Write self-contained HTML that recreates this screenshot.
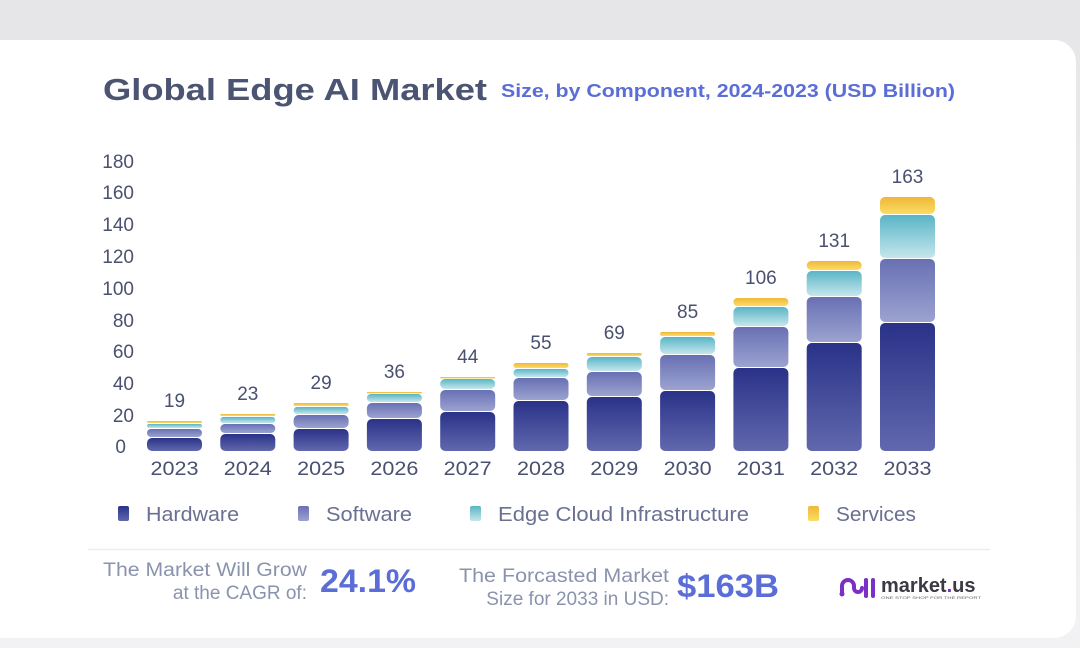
<!DOCTYPE html>
<html><head><meta charset="utf-8"><style>
html,body{margin:0;padding:0;background:#efeff1;}
svg{display:block;font-family:"Liberation Sans",sans-serif;}
</style></head><body>
<svg width="1080" height="648" viewBox="0 0 1080 648" xmlns="http://www.w3.org/2000/svg">
<defs>
<linearGradient id="hw" x1="0" y1="0" x2="0" y2="1"><stop offset="0" stop-color="#2a3289"/><stop offset="1" stop-color="#6168ad"/></linearGradient>
<linearGradient id="sw" x1="0" y1="0" x2="0" y2="1"><stop offset="0" stop-color="#6870b4"/><stop offset="1" stop-color="#9ca3d0"/></linearGradient>
<linearGradient id="cl" x1="0" y1="0" x2="0" y2="1"><stop offset="0" stop-color="#5ab5c6"/><stop offset="1" stop-color="#c5e6ec"/></linearGradient>
<linearGradient id="sv" x1="0" y1="0" x2="0" y2="1"><stop offset="0" stop-color="#f0b63c"/><stop offset="1" stop-color="#f9de62"/></linearGradient>
<linearGradient id="bg" x1="0" y1="0" x2="0" y2="1"><stop offset="0" stop-color="#e6e6e8"/><stop offset="1" stop-color="#f2f2f4"/></linearGradient>
</defs>
<rect width="1080" height="648" fill="url(#bg)"/>
<rect x="-20" y="40" width="1096" height="598" rx="22" fill="#ffffff"/>
<text x="103" y="100" font-size="31" font-weight="bold" fill="#4b5472" textLength="384" lengthAdjust="spacingAndGlyphs">Global Edge AI Market</text>
<text x="501" y="97" font-size="18" font-weight="bold" fill="#5b6dd6" textLength="454" lengthAdjust="spacingAndGlyphs">Size, by Component, 2024-2023 (USD Billion)</text>
<g font-size="19" fill="#4a5070" text-anchor="end">
<text x="134" y="168">180</text><text x="134" y="199">160</text><text x="134" y="231">140</text><text x="134" y="263">120</text><text x="134" y="295">100</text><text x="134" y="327">80</text><text x="134" y="358">60</text><text x="134" y="390">40</text><text x="134" y="422">20</text><text x="126" y="453">0</text>
</g>
<g id="bars"></g>
<g font-size="19" fill="#4a5070" text-anchor="middle" id="labels"></g>
<rect x="118" y="506" width="11" height="15" rx="2" fill="url(#hw)"/>
<rect x="298" y="506" width="11" height="15" rx="2" fill="url(#sw)"/>
<rect x="470" y="506" width="11" height="15" rx="2" fill="url(#cl)"/>
<rect x="808" y="506" width="11" height="15" rx="2" fill="url(#sv)"/>
<g font-size="20" fill="#6a7092">
<text x="146" y="521" textLength="93" lengthAdjust="spacingAndGlyphs">Hardware</text>
<text x="326" y="521" textLength="86" lengthAdjust="spacingAndGlyphs">Software</text>
<text x="498" y="521" textLength="251" lengthAdjust="spacingAndGlyphs">Edge Cloud Infrastructure</text>
<text x="836" y="521" textLength="80" lengthAdjust="spacingAndGlyphs">Services</text>
</g>
<line x1="88" y1="549.5" x2="990" y2="549.5" stroke="#ececee" stroke-width="1.5"/>
<g font-size="19" fill="#8a93ad" text-anchor="end">
<text x="307" y="576" textLength="204" lengthAdjust="spacingAndGlyphs">The Market Will Grow</text>
<text x="307" y="599">at the CAGR of:</text>
<text x="669" y="582" textLength="210" lengthAdjust="spacingAndGlyphs">The Forcasted Market</text>
<text x="669" y="605">Size for 2033 in USD:</text>
</g>
<text x="320" y="592" font-size="32" font-weight="bold" fill="#5b6dd6" textLength="96" lengthAdjust="spacingAndGlyphs">24.1%</text>
<text x="677" y="597" font-size="32" font-weight="bold" fill="#5b6dd6" textLength="102" lengthAdjust="spacingAndGlyphs">$163B</text>
<g stroke="#7b2fc4" stroke-width="4" fill="none" stroke-linecap="round">
<path d="M842 594 v-8 a6 6 0 0 1 12 0 v2 a4 4 0 0 0 8 0"/>
<line x1="866" y1="580" x2="866" y2="596"/>
<line x1="873" y1="580" x2="873" y2="596"/>
</g>
<circle cx="842" cy="594" r="2.5" fill="#7b2fc4"/>
<text x="881" y="592" font-size="20" font-weight="bold" fill="#3a3a44">market<tspan fill="#7b2fc4">.</tspan>us</text>
<text x="881" y="599" font-size="4" fill="#666" textLength="100" lengthAdjust="spacingAndGlyphs">ONE STOP SHOP FOR THE REPORT</text>
</svg>
<script>
var tops=[[438,429,424,421],[434,424,417,414],[429,415,407,403],[419,403,394,392],[412,390,379,377],[401,378,369,363],[397,372,357,353],[391,355,337,332],[368,327,307,298],[343,297,271,261],[323,259,215,197]];
var tot=[19,23,29,36,44,55,69,85,106,131,163];
var ids=['hw','sw','cl','sv'];
var ns='http://www.w3.org/2000/svg';
var g=document.getElementById('bars'),L=document.getElementById('labels');
for(var i=0;i<11;i++){
 var x=147+i*73.3,w=55,bot=451;
 for(var k=0;k<4;k++){
  var t=tops[i][k];var b=(k==0?bot:tops[i][k-1]-1);
  var r=document.createElementNS(ns,'rect');
  r.setAttribute('x',x);r.setAttribute('y',t);r.setAttribute('width',w);r.setAttribute('height',Math.max(b-t,1.5));
  r.setAttribute('rx',Math.min(5,(b-t)/2));r.setAttribute('fill','url(#'+ids[k]+')');g.appendChild(r);
 }
 var tx=document.createElementNS(ns,'text');tx.setAttribute('x',x+w/2);tx.setAttribute('y',tops[i][3]-14);tx.textContent=tot[i];L.appendChild(tx);
 var yx=document.createElementNS(ns,'text');yx.setAttribute('x',x+w/2);yx.setAttribute('y',475);yx.setAttribute('textLength',48);yx.setAttribute('lengthAdjust','spacingAndGlyphs');yx.textContent=2023+i;L.appendChild(yx);
}
</script>
</body></html>
